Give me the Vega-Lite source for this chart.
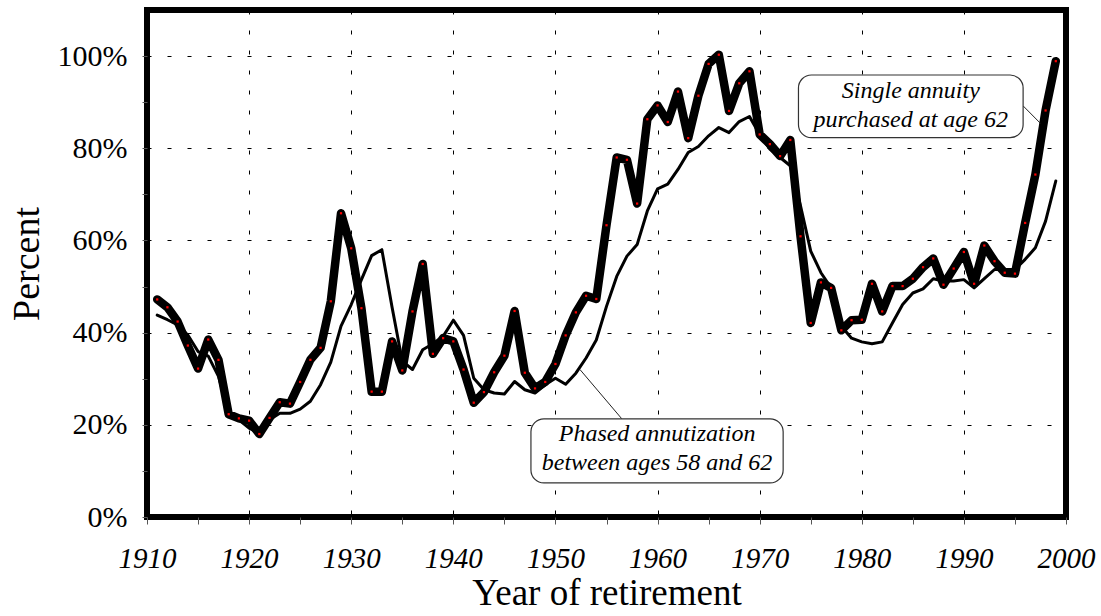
{
  "$schema": "https://vega.github.io/schema/vega-lite/v6.json",
  "width": 919,
  "height": 507,
  "autosize": {"type": "none"},
  "padding": {"left": 147, "top": 10, "right": 35, "bottom": 99},
  "background": "white",
  "config": {
    "view": {"stroke": "black", "strokeWidth": 6},
    "font": "Liberation Serif"
  },
  "datasets": {
    "single": [
      {"year": 1911, "value": 47.2}, {"year": 1912, "value": 45.5}, {"year": 1913, "value": 42.4}, {"year": 1914, "value": 37.2},
      {"year": 1915, "value": 32.2}, {"year": 1916, "value": 38.5}, {"year": 1917, "value": 34.1}, {"year": 1918, "value": 22.3},
      {"year": 1919, "value": 21.4}, {"year": 1920, "value": 20.9}, {"year": 1921, "value": 18.0}, {"year": 1922, "value": 21.5},
      {"year": 1923, "value": 24.9}, {"year": 1924, "value": 24.6}, {"year": 1925, "value": 29.3}, {"year": 1926, "value": 34.1},
      {"year": 1927, "value": 36.7}, {"year": 1928, "value": 46.8}, {"year": 1929, "value": 65.9}, {"year": 1930, "value": 58.3},
      {"year": 1931, "value": 45.3}, {"year": 1932, "value": 27.2}, {"year": 1933, "value": 27.2}, {"year": 1934, "value": 38.1},
      {"year": 1935, "value": 31.8}, {"year": 1936, "value": 44.6}, {"year": 1937, "value": 54.9}, {"year": 1938, "value": 35.4},
      {"year": 1939, "value": 38.8}, {"year": 1940, "value": 38.1}, {"year": 1941, "value": 32.0}, {"year": 1942, "value": 24.8},
      {"year": 1943, "value": 27.1}, {"year": 1944, "value": 31.4}, {"year": 1945, "value": 35.0}, {"year": 1946, "value": 44.7},
      {"year": 1947, "value": 31.3}, {"year": 1948, "value": 27.9}, {"year": 1949, "value": 29.3}, {"year": 1950, "value": 33.2},
      {"year": 1951, "value": 39.4}, {"year": 1952, "value": 44.4}, {"year": 1953, "value": 48.0}, {"year": 1954, "value": 47.3},
      {"year": 1955, "value": 63.3}, {"year": 1956, "value": 78.0}, {"year": 1957, "value": 77.5}, {"year": 1958, "value": 68.0},
      {"year": 1959, "value": 86.3}, {"year": 1960, "value": 89.3}, {"year": 1961, "value": 85.7}, {"year": 1962, "value": 92.3},
      {"year": 1963, "value": 82.2}, {"year": 1964, "value": 91.4}, {"year": 1965, "value": 98.3}, {"year": 1966, "value": 100.3},
      {"year": 1967, "value": 88.1}, {"year": 1968, "value": 94.1}, {"year": 1969, "value": 96.7}, {"year": 1970, "value": 83.0},
      {"year": 1971, "value": 80.9}, {"year": 1972, "value": 78.3}, {"year": 1973, "value": 81.8}, {"year": 1974, "value": 60.9},
      {"year": 1975, "value": 42.1}, {"year": 1976, "value": 50.9}, {"year": 1977, "value": 49.7}, {"year": 1978, "value": 40.5},
      {"year": 1979, "value": 42.7}, {"year": 1980, "value": 42.8}, {"year": 1981, "value": 50.6}, {"year": 1982, "value": 44.6},
      {"year": 1983, "value": 50.1}, {"year": 1984, "value": 50.1}, {"year": 1985, "value": 51.7}, {"year": 1986, "value": 54.2},
      {"year": 1987, "value": 56.1}, {"year": 1988, "value": 50.4}, {"year": 1989, "value": 53.9}, {"year": 1990, "value": 57.5},
      {"year": 1991, "value": 50.6}, {"year": 1992, "value": 58.9}, {"year": 1993, "value": 55.5}, {"year": 1994, "value": 53.0},
      {"year": 1995, "value": 52.8}, {"year": 1996, "value": 63.8}, {"year": 1997, "value": 74.3}, {"year": 1998, "value": 88.2},
      {"year": 1999, "value": 98.9}
    ],
    "phased": [
      {"year": 1911, "value": 43.8}, {"year": 1912, "value": 42.8}, {"year": 1913, "value": 41.7}, {"year": 1914, "value": 39.5},
      {"year": 1915, "value": 35.9}, {"year": 1916, "value": 34.9}, {"year": 1917, "value": 30.5}, {"year": 1918, "value": 22.6},
      {"year": 1919, "value": 21.1}, {"year": 1920, "value": 19.3}, {"year": 1921, "value": 18.2}, {"year": 1922, "value": 21.1},
      {"year": 1923, "value": 22.5}, {"year": 1924, "value": 22.5}, {"year": 1925, "value": 23.4}, {"year": 1926, "value": 25.1},
      {"year": 1927, "value": 28.7}, {"year": 1928, "value": 33.6}, {"year": 1929, "value": 41.4}, {"year": 1930, "value": 46.1},
      {"year": 1931, "value": 51.5}, {"year": 1932, "value": 56.7}, {"year": 1933, "value": 58.0}, {"year": 1934, "value": 45.5},
      {"year": 1935, "value": 33.8}, {"year": 1936, "value": 32.0}, {"year": 1937, "value": 36.3}, {"year": 1938, "value": 37.6},
      {"year": 1939, "value": 39.2}, {"year": 1940, "value": 42.7}, {"year": 1941, "value": 39.4}, {"year": 1942, "value": 30.1},
      {"year": 1943, "value": 27.6}, {"year": 1944, "value": 26.9}, {"year": 1945, "value": 26.7}, {"year": 1946, "value": 29.4},
      {"year": 1947, "value": 27.6}, {"year": 1948, "value": 26.9}, {"year": 1949, "value": 28.7}, {"year": 1950, "value": 30.1},
      {"year": 1951, "value": 28.8}, {"year": 1952, "value": 31.2}, {"year": 1953, "value": 34.5}, {"year": 1954, "value": 38.4},
      {"year": 1955, "value": 45.7}, {"year": 1956, "value": 52.2}, {"year": 1957, "value": 56.6}, {"year": 1958, "value": 59.1},
      {"year": 1959, "value": 66.4}, {"year": 1960, "value": 71.2}, {"year": 1961, "value": 72.2}, {"year": 1962, "value": 75.4},
      {"year": 1963, "value": 79.1}, {"year": 1964, "value": 80.4}, {"year": 1965, "value": 82.7}, {"year": 1966, "value": 84.5},
      {"year": 1967, "value": 83.4}, {"year": 1968, "value": 85.8}, {"year": 1969, "value": 86.9}, {"year": 1970, "value": 83.0},
      {"year": 1971, "value": 79.8}, {"year": 1972, "value": 78.0}, {"year": 1973, "value": 76.2}, {"year": 1974, "value": 67.5},
      {"year": 1975, "value": 57.7}, {"year": 1976, "value": 53.0}, {"year": 1977, "value": 49.7}, {"year": 1978, "value": 41.4},
      {"year": 1979, "value": 38.8}, {"year": 1980, "value": 38.0}, {"year": 1981, "value": 37.6}, {"year": 1982, "value": 38.0},
      {"year": 1983, "value": 42.1}, {"year": 1984, "value": 46.1}, {"year": 1985, "value": 48.6}, {"year": 1986, "value": 49.5},
      {"year": 1987, "value": 51.7}, {"year": 1988, "value": 51.2}, {"year": 1989, "value": 51.2}, {"year": 1990, "value": 51.5},
      {"year": 1991, "value": 49.7}, {"year": 1992, "value": 51.7}, {"year": 1993, "value": 53.7}, {"year": 1994, "value": 53.7},
      {"year": 1995, "value": 53.7}, {"year": 1996, "value": 55.9}, {"year": 1997, "value": 58.4}, {"year": 1998, "value": 64.2},
      {"year": 1999, "value": 72.9}
    ],
    "leaders": [
      {"year": 1952.4, "value": 32.0, "year2": 1956.5, "value2": 21.3},
      {"year": 1995.8, "value": 89.2, "year2": 1997.5, "value2": 85.4}
    ],
    "boxes": [
      {"year": 1947.6, "year2": 1972.3, "value": 21.3, "value2": 7.4},
      {"year": 1973.8, "year2": 1995.8, "value": 95.9, "value2": 82.3}
    ],
    "notes": [
      {"year": 1959.95, "value": 16.4, "text": "Phased annutization"},
      {"year": 1959.95, "value": 10.1, "text": "between ages 58 and 62"},
      {"year": 1984.8, "value": 90.9, "text": "Single annuity"},
      {"year": 1984.8, "value": 84.6, "text": "purchased at age 62"}
    ]
  },
  "layer": [
    {
      "data": {"name": "phased"},
      "mark": {"type": "line", "color": "black", "strokeWidth": 3, "strokeJoin": "round", "strokeCap": "round"},
      "encoding": {
        "x": {
          "field": "year", "type": "quantitative",
          "scale": {"domain": [1910, 2000], "nice": false, "zero": false},
          "axis": {
            "title": "Year of retirement",
            "titleFont": "Liberation Serif", "titleFontSize": 37, "titleFontWeight": "normal", "titleColor": "black", "titlePadding": 2,
            "values": [1910, 1915, 1920, 1925, 1930, 1935, 1940, 1945, 1950, 1955, 1960, 1965, 1970, 1975, 1980, 1985, 1990, 1995, 2000],
            "labelExpr": "datum.value % 10 === 0 ? '' + datum.value : ''",
            "labelFont": "Liberation Serif", "labelFontStyle": "italic", "labelFontSize": 29, "labelColor": "black", "labelPadding": 20,
            "labelFlush": false, "labelOverlap": false,
            "domain": false,
            "ticks": true, "tickSize": 7, "tickColor": "#555", "tickWidth": 1,
            "grid": true, "gridColor": "black", "gridWidth": 1, "gridDash": [4, 16],
            "gridOpacity": {"condition": {"test": "datum.value % 10 === 0 && datum.value > 1910 && datum.value < 2000", "value": 1}, "value": 0}
          }
        },
        "y": {
          "field": "value", "type": "quantitative",
          "scale": {"domain": [0, 110], "nice": false},
          "axis": {
            "title": "Percent",
            "titleFont": "Liberation Serif", "titleFontSize": 38, "titleFontWeight": "normal", "titleColor": "black", "titlePadding": 11,
            "values": [0, 10, 20, 30, 40, 50, 60, 70, 80, 90, 100],
            "labelExpr": "datum.value % 20 === 0 ? datum.value + '%' : ''",
            "labelFont": "Liberation Serif", "labelFontSize": 30, "labelColor": "black", "labelPadding": 15,
            "labelFlush": false, "labelOverlap": false,
            "domain": false,
            "ticks": true, "tickSize": 5, "tickColor": "#555", "tickWidth": 1,
            "grid": true, "gridColor": "black", "gridWidth": 1, "gridDash": [4, 16],
            "gridOpacity": {"condition": {"test": "datum.value % 20 === 0 && datum.value > 0", "value": 1}, "value": 0}
          }
        }
      }
    },
    {
      "data": {"name": "single"},
      "mark": {"type": "line", "color": "black", "strokeWidth": 8.5, "strokeJoin": "round", "strokeCap": "round"},
      "encoding": {
        "x": {"field": "year", "type": "quantitative"},
        "y": {"field": "value", "type": "quantitative"}
      }
    },
    {
      "data": {"name": "single"},
      "mark": {"type": "point", "shape": "square", "filled": true, "size": 5, "color": "#ff0000", "opacity": 1},
      "encoding": {
        "x": {"field": "year", "type": "quantitative"},
        "y": {"field": "value", "type": "quantitative"}
      }
    },
    {
      "data": {"name": "leaders"},
      "mark": {"type": "rule", "color": "#222", "strokeWidth": 1},
      "encoding": {
        "x": {"field": "year", "type": "quantitative"},
        "y": {"field": "value", "type": "quantitative"},
        "x2": {"field": "year2"},
        "y2": {"field": "value2"}
      }
    },
    {
      "data": {"name": "boxes"},
      "mark": {"type": "rect", "fill": "white", "stroke": "#333", "strokeWidth": 1.2, "cornerRadius": 13},
      "encoding": {
        "x": {"field": "year", "type": "quantitative"},
        "x2": {"field": "year2"},
        "y": {"field": "value", "type": "quantitative"},
        "y2": {"field": "value2"}
      }
    },
    {
      "data": {"name": "notes"},
      "mark": {"type": "text", "font": "Liberation Serif", "fontStyle": "italic", "fontSize": 24, "align": "center", "baseline": "alphabetic", "color": "black"},
      "encoding": {
        "x": {"field": "year", "type": "quantitative"},
        "y": {"field": "value", "type": "quantitative"},
        "text": {"field": "text"}
      }
    }
  ]
}
